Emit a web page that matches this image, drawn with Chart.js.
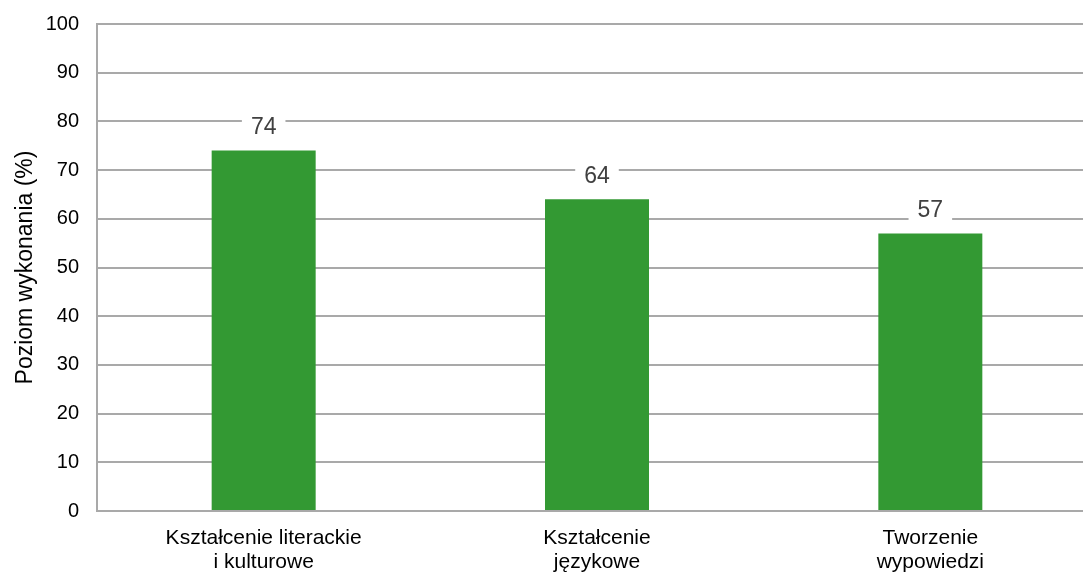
<!DOCTYPE html>
<html>
<head>
<meta charset="utf-8">
<script src="https://cdn.jsdelivr.net/npm/chart.js@4/dist/chart.umd.min.js"></script>
<style>
  html, body { margin: 0; padding: 0; background: #fff; overflow: hidden; }
  #wrap { width: 1097px; height: 579px; margin-top: -6px; position: relative; }
</style>
</head>
<body>
<div id="wrap"><canvas id="chart"></canvas></div>
<script>
"use strict"

const categories = [
  ["Kształcenie literackie", "i kulturowe"],
  ["Kształcenie", "językowe"],
  ["Tworzenie", "wypowiedzi"]
]
const values = [74, 64, 57]
const yTitle = "Poziom wykonania (%)"

const FONT = "'Liberation Sans', Arial, sans-serif"
const gridColor = "#a9a9a9"

// labels above bars, with white box that hides the gridline behind
const barLabels = {
  id: "barLabels",
  afterDatasetsDraw(chart) {
    const { ctx } = chart
    const meta = chart.getDatasetMeta(0)
    ctx.save()
    ctx.font = "23px " + FONT
    ctx.textAlign = "center"
    ctx.textBaseline = "middle"
    meta.data.forEach((bar, i) => {
      const txt = String(values[i])
      const w = ctx.measureText(txt).width + 18
      const y = bar.y - 23
      ctx.fillStyle = "#fff"
      ctx.fillRect(bar.x - w / 2, y - 13, w, 26)
      ctx.fillStyle = "#404040"
      ctx.fillText(txt, bar.x, y)
    })
    ctx.restore()
  }
}

new Chart("chart", {
  type: "bar",
  data: {
    labels: categories,
    datasets: [{
      data: values,
      backgroundColor: "#339933",
      barPercentage: 1,
      categoryPercentage: 0.312
    }]
  },
  options: {
    responsive: true,
    maintainAspectRatio: false,
    animation: false,
    layout: { padding: { top: 18, right: 0, left: 0, bottom: 0 } },
    plugins: { legend: { display: false }, tooltip: { enabled: false } },
    scales: {
      x: {
        grid: { display: false, drawTicks: false },
        border: { color: gridColor, width: 2 },
        ticks: { color: "#000", padding: 15, font: { family: FONT, size: 21, lineHeight: 1.14 } },
        afterFit: s => { s.height = 62 }
      },
      y: {
        min: 0, max: 100,
        ticks: { stepSize: 10, color: "#000", padding: 18, font: { family: FONT, size: 20 } },
        grid: { color: gridColor, lineWidth: 2, drawTicks: false },
        border: { color: gridColor, width: 2 },
        title: { display: true, text: yTitle, color: "#000", padding: { top: 12, bottom: 0 }, font: { family: FONT, size: 23 } },
        afterFit: s => { s.width = 97 }
      }
    }
  },
  plugins: [barLabels]
})
</script>
</body>
</html>
